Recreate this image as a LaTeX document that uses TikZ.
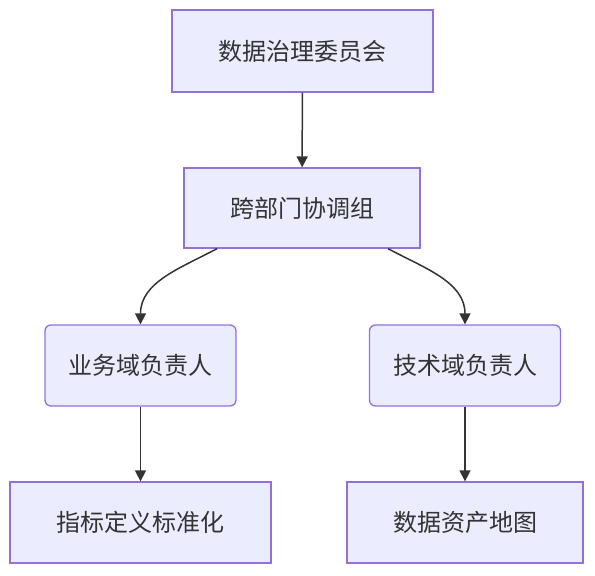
\documentclass[tikz,border=0pt]{standalone}
\usepackage{fontspec}
\setmainfont{Noto Sans CJK SC}
\usetikzlibrary{arrows.meta}
\definecolor{boxfill}{HTML}{ECECFF}
\definecolor{boxline}{HTML}{9370DB}
\definecolor{edge}{HTML}{333333}
\begin{document}
\begin{tikzpicture}[
    x=1pt,y=-1pt,
    box/.style={draw=boxline,fill=boxfill,line width=1.3pt,inner sep=0pt,
        font=\fontsize{24}{28}\selectfont,text=black!80},
    rbox/.style={box,rounded corners=6pt},
    >={Triangle[length=11pt,width=11pt]}
]
\useasboundingbox (0,0) rectangle (595,576);
\node[box,minimum width=261pt,minimum height=82pt] (board) at (302.5,51) {数据治理委员会};
\node[box,minimum width=236pt,minimum height=80pt] (cross) at (302,208) {跨部门协调组};
\node[rbox,minimum width=191pt,minimum height=81pt] (biz) at (140.5,365.5) {业务域负责人};
\node[rbox,minimum width=191pt,minimum height=81pt] (tech) at (465,365.5) {技术域负责人};
\node[box,minimum width=261pt,minimum height=81pt] (metric) at (140.5,522.5) {指标定义标准化};
\node[box,minimum width=236pt,minimum height=81pt] (assets) at (465,522.5) {数据资产地图};

\draw[->,edge,line width=1.5pt] (board)--(cross);
\draw[->,edge,line width=1.5pt] ([xshift=-85pt]cross.south) to[out=-152,in=90] (biz.north);
\draw[->,edge,line width=1.5pt] ([xshift=86pt]cross.south) to[out=-28,in=90] (tech.north);
\draw[->,edge,line width=1.5pt] (biz)--(metric);
\draw[->,edge,line width=1.5pt] (tech)--(assets);
\end{tikzpicture}
\end{document}
